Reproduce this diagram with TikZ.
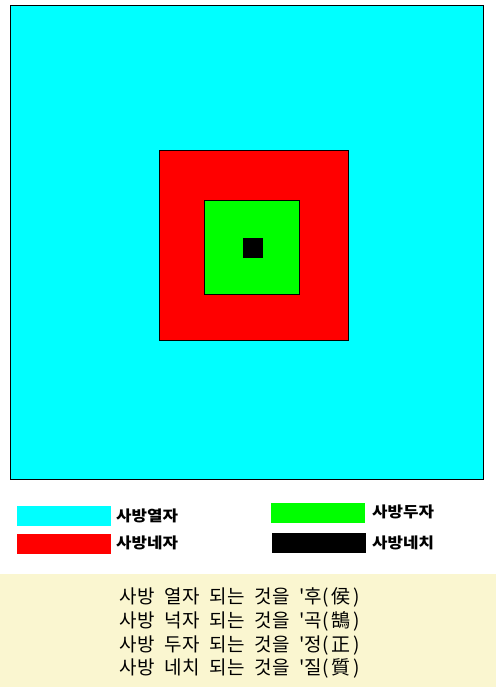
\documentclass[tikz,border=0pt]{standalone}
\usepackage{fontspec}
\newfontfamily\kr{Noto Sans CJK KR}
\definecolor{cyanc}{RGB}{0,255,255}
\definecolor{redc}{RGB}{255,0,0}
\definecolor{greenc}{RGB}{0,255,0}
\definecolor{beige}{RGB}{250,246,208}
\newcommand\gapk{\hspace{10pt}}
\newcommand\parenk[1]{(\hspace{3pt}#1\hspace{3pt})}
\newcommand\legk[1]{\scalebox{1.12}[1]{#1}}
\begin{document}
\begin{tikzpicture}[x=1pt,y=-1pt,
  sq/.style={draw=black,line width=1pt},
  lab/.style={anchor=west,inner sep=0pt,font=\kr\bfseries\fontsize{15}{17}\selectfont},
  line/.style={anchor=center,inner sep=0pt,font=\kr\fontsize{19}{21}\selectfont}]
\useasboundingbox (0,0) rectangle (496,687);
\fill[white] (0,0) rectangle (496,687);
% squares
\filldraw[sq,fill=cyanc] (10,6) rectangle (483,479);
\filldraw[sq,fill=redc] (159,151) rectangle (348.5,340.5);
\filldraw[sq,fill=greenc] (204.5,200.5) rectangle (299.5,294.5);
\fill[black] (243,238) rectangle (263,258);
% legend
\fill[cyanc] (17,506) rectangle (111,526);
\fill[redc] (17,534) rectangle (111,554);
\fill[greenc] (271,503) rectangle (365,523);
\fill[black] (272,533) rectangle (366,553);
\node[lab] (l1) at (116,516) {\legk{사방열자}};
\node[lab] (l2) at (116,543) {\legk{사방네자}};
\node[lab] (l3) at (372,512) {\legk{사방두자}};
\node[lab] (l4) at (372,543) {\legk{사방네치}};
% text box
\fill[beige] (0,574) rectangle (496,687);
\node[line] (t1) at (240,597) {사방\gapk 열자\gapk 되는\gapk 것을\gapk '후\parenk{侯}};
\node[line] (t2) at (240,621) {사방\gapk 넉자\gapk 되는\gapk 것을\gapk '곡\parenk{鵠}};
\node[line] (t3) at (240,645) {사방\gapk 두자\gapk 되는\gapk 것을\gapk '정\parenk{正}};
\node[line] (t4) at (240,668) {사방\gapk 네치\gapk 되는\gapk 것을\gapk '질\parenk{質}};
\end{tikzpicture}
\end{document}
